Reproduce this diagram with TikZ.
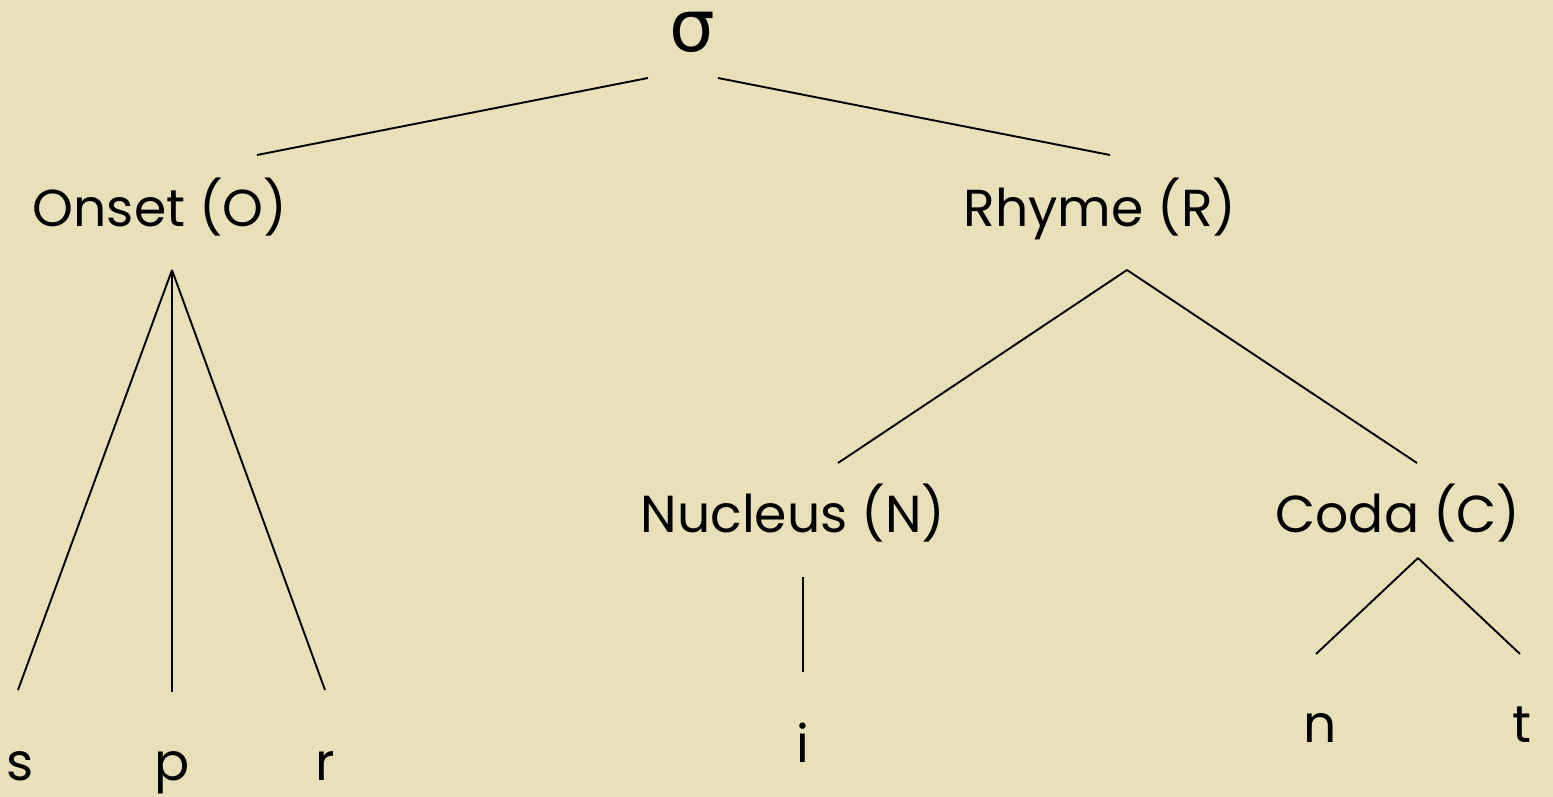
\documentclass[tikz,border=0pt]{standalone}
\usepackage{fontspec}
\setmainfont{Poppins}
\newfontfamily\greekfont{DejaVu Sans}
\definecolor{bg}{HTML}{E7E0B8}
\begin{document}
\begin{tikzpicture}[x=1pt,y=-1pt,
  lbl/.style={anchor=base,inner sep=0pt,font=\fontsize{52}{58}\selectfont},
  edge/.style={line width=1.9pt,black}]
\fill[bg] (0,0) rectangle (1553,797);
\useasboundingbox (0,0) rectangle (1553,797);
% labels
\node[lbl,font=\greekfont\fontsize{72}{78}\selectfont] (sig) at (692,52) {σ};
\node[lbl] (ons) at (160,226) {Onset (O)};
\node[lbl] (rhy) at (1100,226) {Rhyme (R)};
\node[lbl] (nuc) at (793,532) {Nucleus (N)};
\node[lbl] (cod) at (1398,532) {Coda (C)};
\node[lbl] (s) at (20,780) {s};
\node[lbl] (p) at (172,780) {p};
\node[lbl] (r) at (325,780) {r};
\node[lbl] (i) at (803,762) {i};
\node[lbl] (n) at (1320,742) {n};
\node[lbl] (t) at (1522,742) {t};
% connector end points
\coordinate (sigL) at (648,78);
\coordinate (sigR) at (718,78);
\coordinate (onsT) at (257,155);
\coordinate (rhyT) at (1110,155);
\coordinate (onsB) at (172,270);
\coordinate (sT) at (18,690);
\coordinate (pT) at (172,692);
\coordinate (rT) at (325,690);
\coordinate (rhyB) at (1127,270);
\coordinate (nucT) at (838,463);
\coordinate (codT) at (1417,463);
\coordinate (nucB) at (803,577);
\coordinate (iT) at (803,672);
\coordinate (codB) at (1418,558);
\coordinate (nT) at (1316,654);
\coordinate (tT) at (1520,654);
% connectors
\draw[edge] (sigL) -- (onsT);
\draw[edge] (sigR) -- (rhyT);
\draw[edge] (onsB) -- (sT);
\draw[edge] (onsB) -- (pT);
\draw[edge] (onsB) -- (rT);
\draw[edge] (rhyB) -- (nucT);
\draw[edge] (rhyB) -- (codT);
\draw[edge] (nucB) -- (iT);
\draw[edge] (codB) -- (nT);
\draw[edge] (codB) -- (tT);
\end{tikzpicture}
\end{document}
